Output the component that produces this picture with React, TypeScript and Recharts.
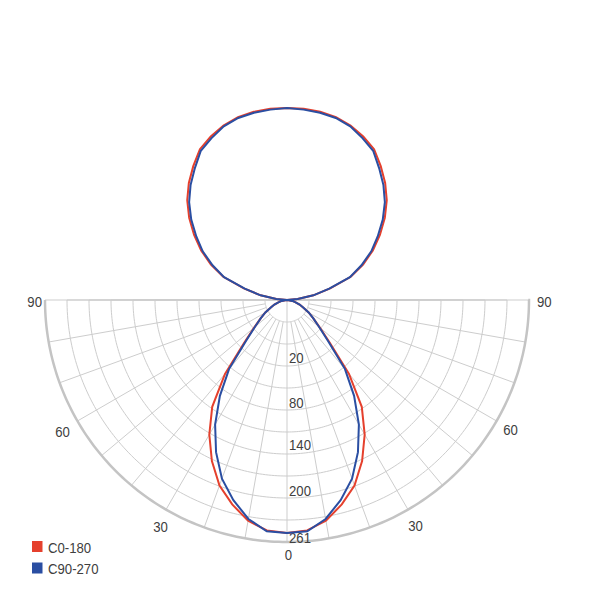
import React from 'react';
import { RadarChart, Radar, PolarGrid, PolarAngleAxis, PolarRadiusAxis } from 'recharts';

// Photometric gamma angles (0 = straight down, 180 = straight up), both half-planes mirrored
const gammaAngles = [0, 5, 10, 15, 20, 25, 30, 35, 40, 45, 50, 55, 60, 65, 70, 75, 80, 85, 90,
  95, 100, 105, 110, 115, 120, 125, 130, 135, 140, 145, 150, 155, 160, 165, 170, 175, 180];

// Luminous intensity (cd)
const c0_180 = [261, 259, 251, 237, 221, 199, 174, 146, 108, 68, 48, 36, 28, 20, 15, 10, 6, 2, 0,
  12, 30, 50, 76, 94, 111, 127, 143, 158, 171, 183, 195, 202, 208, 212, 214, 215, 215];
const c90_270 = [261, 260, 249, 232, 213, 188, 161, 131, 101, 65, 47, 36, 28, 20, 15, 10, 6, 2, 0,
  12, 30, 49, 75, 92, 109, 124, 140, 155, 168, 180, 193, 200, 207, 211, 213, 214, 215];

const seriesNames = ['C0-180', 'C90-270'];
const radialTickLabels = ['20', '80', '140', '200', '261'];
const angleTickLabels = ['90', '60', '30', '0', '30', '60', '90'];

const RED = '#E5402D';
const BLUE = '#2A4EA2';
const CX = 287;
const CY = 300;
const R = 242;
const RING = 22;
const RADIUS_MAX = 271;

const data: { idx: number; c0: number; c90: number }[] = [];
for (let i = 0; i < 72; i++) {
  const g = i <= 36 ? i * 5 : 360 - i * 5;
  const k = gammaAngles.indexOf(g);
  data.push({ idx: i, c0: c0_180[k], c90: c90_270[k] });
}

const spokeAngles = Array.from({ length: 19 }, (_, i) => 180 + i * 10);
const fineAngles = Array.from({ length: 181 }, (_, i) => 180 + i);
const ringRadii = Array.from({ length: 10 }, (_, i) => (i + 1) * RING);

const angleLabelPos = [
  { x: 42, y: 306.5, a: 'end' },
  { x: 62.5, y: 437, a: 'middle' },
  { x: 160.5, y: 532, a: 'middle' },
  { x: 288.5, y: 560, a: 'middle' },
  { x: 415.5, y: 531, a: 'middle' },
  { x: 510.5, y: 435, a: 'middle' },
  { x: 537, y: 306.5, a: 'start' },
];
const radialLabelY = [363, 407.5, 450, 496, 543];

const FONT = '"Liberation Sans", Arial, sans-serif';
const TXT = '#404040';
const FS = 15.5;

const layer: React.CSSProperties = { position: 'absolute', left: 0, top: 0, width: 600, height: 600 };

function Label({ x, y, anchor = 'start', children }: { x: number; y: number; anchor?: string; children: React.ReactNode }) {
  return (
    <g transform={`translate(${x},${y}) scale(0.85,1)`}>
      <text x={0} y={0} textAnchor={anchor as any} fontFamily={FONT} fontSize={FS} fill={TXT}>{children}</text>
    </g>
  );
}

export default function App() {
  return (
    <div style={{ position: 'absolute', left: 0, top: 0, width: 600, height: 600, background: '#fff' }}>
      <div style={layer}>
        <RadarChart width={600} height={600} data={data} cx={CX} cy={CY} innerRadius={RING} outerRadius={R}
          startAngle={270} endAngle={-90} margin={{ top: 0, right: 0, bottom: 0, left: 0 }}>
          <PolarGrid gridType="polygon" polarAngles={spokeAngles} polarRadius={[]} radialLines={true}
            stroke="#cdcdcd" strokeWidth={1} />
          <PolarGrid gridType="polygon" polarAngles={fineAngles} polarRadius={ringRadii} radialLines={false}
            stroke="#cdcdcd" strokeWidth={1} />
          <PolarGrid gridType="polygon" polarAngles={fineAngles} polarRadius={[R]} radialLines={false}
            stroke="#c4c4c4" strokeWidth={2.5} strokeDasharray="761 2000" />
        </RadarChart>
      </div>
      <svg style={{ ...layer, pointerEvents: 'none' }} width={600} height={600}>
        <line x1={CX} y1={CY} x2={CX} y2={CY + RING} stroke="#cdcdcd" strokeWidth={1} />
        {angleTickLabels.map((t, i) => (
          <Label key={'a' + i} x={angleLabelPos[i].x} y={angleLabelPos[i].y} anchor={angleLabelPos[i].a}>{t}</Label>
        ))}
        {radialTickLabels.map((t, i) => (
          <Label key={'r' + i} x={289} y={radialLabelY[i]}>{t}</Label>
        ))}
      </svg>
      <div style={layer}>
        <RadarChart width={600} height={600} data={data} cx={CX} cy={CY} innerRadius={0} outerRadius={R}
          startAngle={270} endAngle={-90} margin={{ top: 0, right: 0, bottom: 0, left: 0 }}>
          <PolarAngleAxis dataKey="idx" tick={false} axisLine={false} tickLine={false} />
          <PolarRadiusAxis domain={[0, RADIUS_MAX]} type="number" tick={false} axisLine={false} tickLine={false} />
          <Radar dataKey="c0" name={seriesNames[0]} stroke={RED} strokeWidth={2} fill="none" fillOpacity={0}
            dot={false} isAnimationActive={false} />
          <Radar dataKey="c90" name={seriesNames[1]} stroke={BLUE} strokeWidth={2} fill="none" fillOpacity={0}
            dot={false} isAnimationActive={false} />
        </RadarChart>
      </div>
      <svg style={{ ...layer, pointerEvents: 'none' }} width={600} height={600}>
        <rect x={32} y={541} width={10.5} height={11} fill={RED} />
        <Label x={48} y={552.5}>{seriesNames[0]}</Label>
        <rect x={32} y={562.5} width={10.5} height={11} fill={BLUE} />
        <Label x={48} y={573.5}>{seriesNames[1]}</Label>
      </svg>
    </div>
  );
}
